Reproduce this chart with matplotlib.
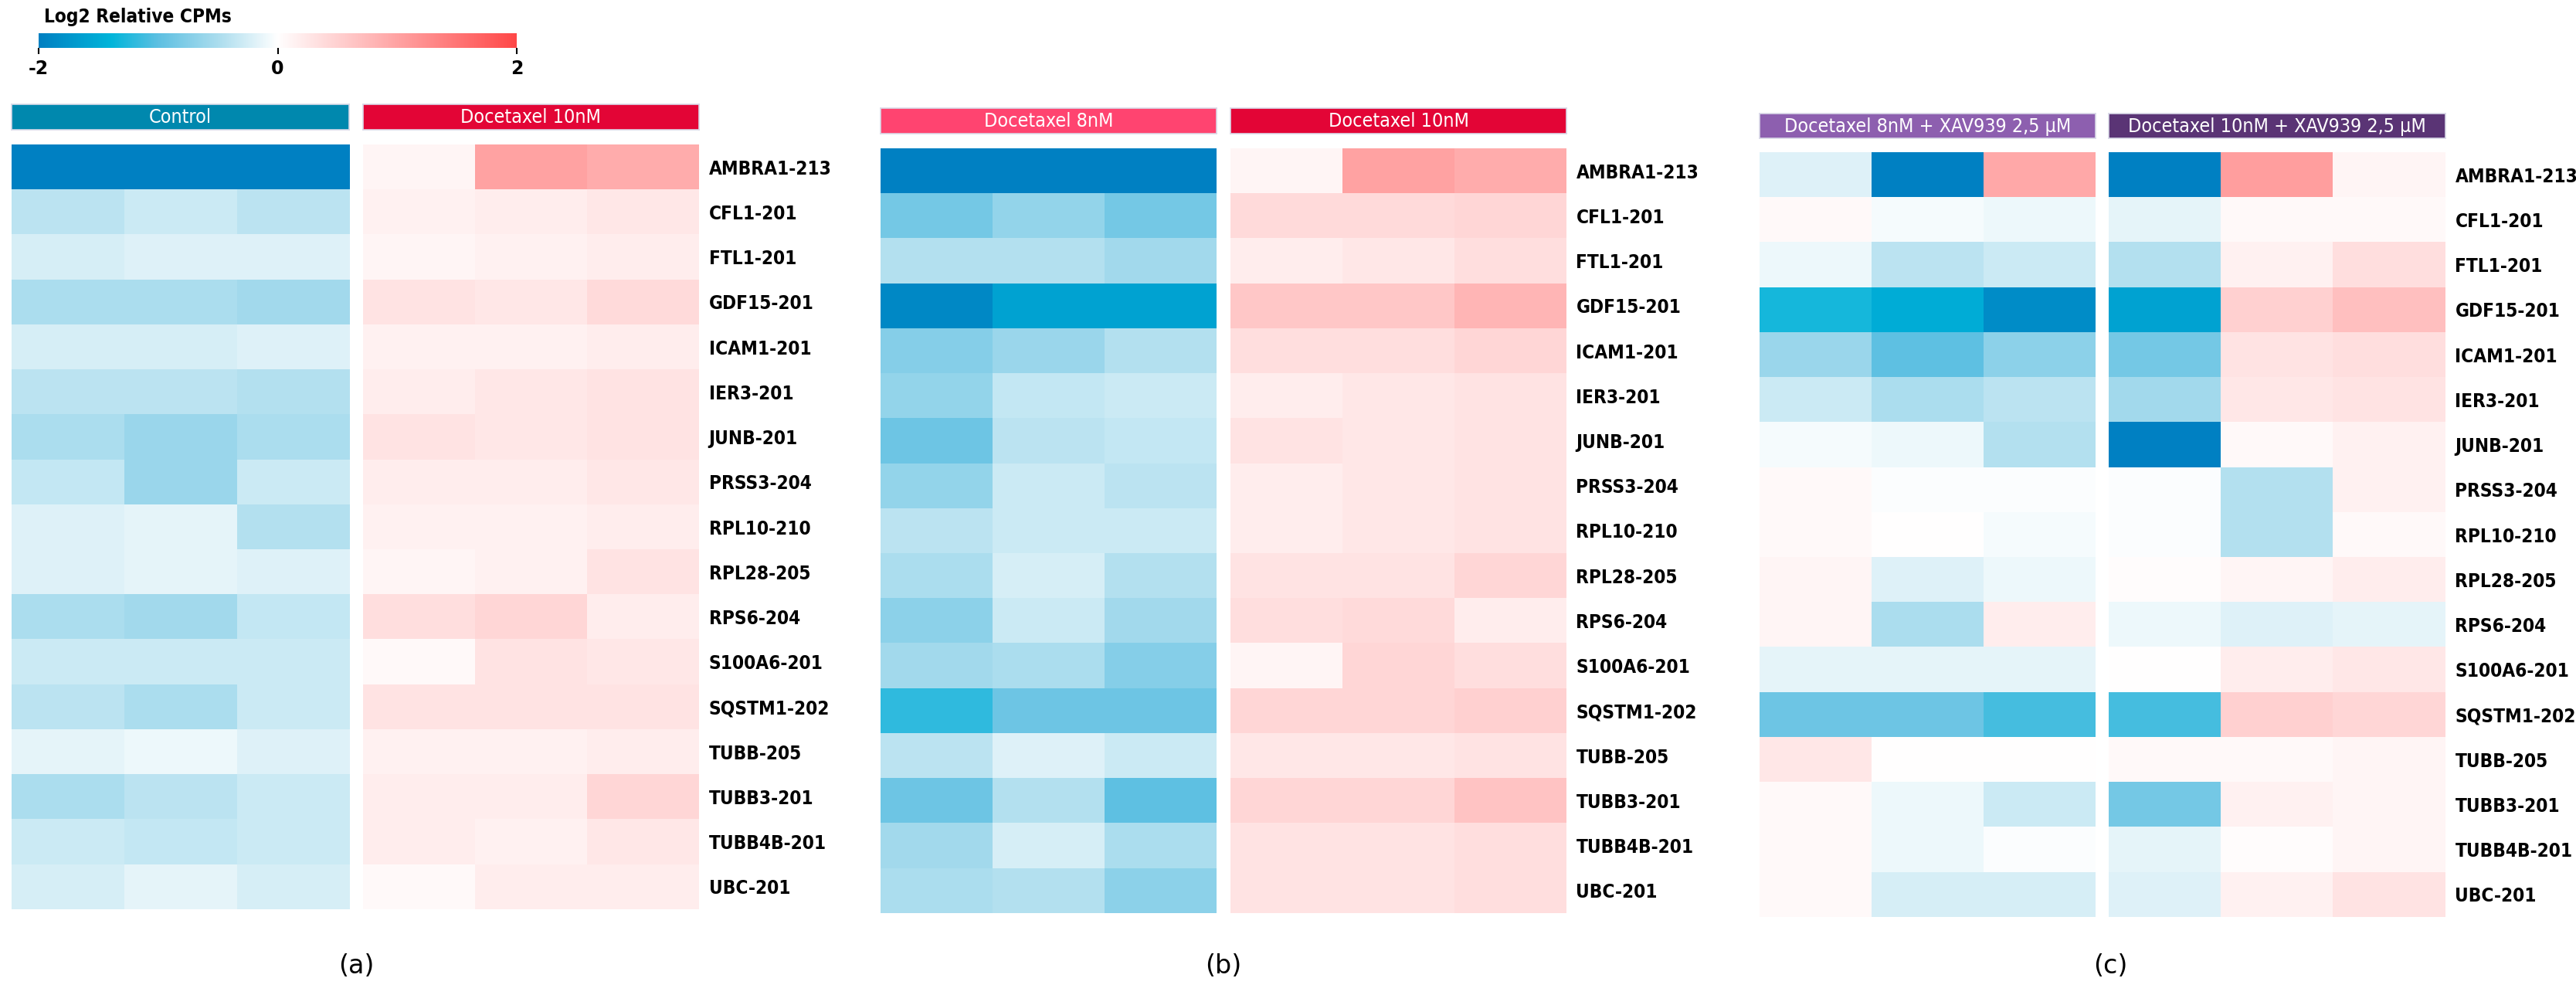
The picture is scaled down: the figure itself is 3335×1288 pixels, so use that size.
import matplotlib
matplotlib.use("Agg")
import matplotlib.pyplot as plt
import numpy as np
from matplotlib.colors import LinearSegmentedColormap

plt.rcParams['font.family'] = ['DejaVu Sans']

W, H = 3335, 1288

genes = ['AMBRA1-213', 'CFL1-201', 'FTL1-201', 'GDF15-201', 'ICAM1-201',
         'IER3-201', 'JUNB-201', 'PRSS3-204', 'RPL10-210', 'RPL28-205',
         'RPS6-204', 'S100A6-201', 'SQSTM1-202', 'TUBB-205', 'TUBB3-201',
         'TUBB4B-201', 'UBC-201']

# log2 relative CPMs, 3 replicates per condition
control_a = [[-2, -2, -2], [-0.4, -0.3, -0.4], [-0.25, -0.2, -0.2],
             [-0.5, -0.5, -0.55], [-0.25, -0.25, -0.2], [-0.4, -0.4, -0.45],
             [-0.5, -0.6, -0.5], [-0.35, -0.6, -0.3], [-0.2, -0.15, -0.45],
             [-0.2, -0.15, -0.2], [-0.5, -0.55, -0.35], [-0.3, -0.3, -0.3],
             [-0.4, -0.5, -0.3], [-0.15, -0.1, -0.2], [-0.5, -0.4, -0.3],
             [-0.3, -0.35, -0.3], [-0.25, -0.15, -0.25]]
doc10_a = [[0.1, 1.0, 0.9], [0.15, 0.2, 0.25], [0.1, 0.15, 0.2],
           [0.3, 0.25, 0.4], [0.15, 0.15, 0.2], [0.2, 0.25, 0.3],
           [0.3, 0.25, 0.3], [0.2, 0.2, 0.25], [0.15, 0.15, 0.2],
           [0.1, 0.15, 0.3], [0.35, 0.45, 0.2], [0.05, 0.3, 0.25],
           [0.3, 0.3, 0.3], [0.15, 0.15, 0.2], [0.2, 0.2, 0.45],
           [0.2, 0.15, 0.25], [0.05, 0.2, 0.2]]
doc8_b = [[-2, -2, -2], [-0.85, -0.65, -0.85], [-0.45, -0.45, -0.55],
          [-1.9, -1.6, -1.6], [-0.75, -0.6, -0.45], [-0.65, -0.35, -0.3],
          [-0.9, -0.4, -0.35], [-0.65, -0.3, -0.4], [-0.4, -0.3, -0.3],
          [-0.5, -0.25, -0.45], [-0.7, -0.3, -0.55], [-0.55, -0.5, -0.75],
          [-1.2, -0.9, -0.9], [-0.4, -0.2, -0.3], [-0.9, -0.45, -1.0],
          [-0.55, -0.25, -0.5], [-0.5, -0.45, -0.7]]
doc10_b = [[0.1, 1.0, 0.9], [0.4, 0.4, 0.45], [0.2, 0.25, 0.35],
           [0.6, 0.6, 0.8], [0.35, 0.35, 0.45], [0.2, 0.25, 0.3],
           [0.3, 0.25, 0.3], [0.2, 0.25, 0.3], [0.2, 0.25, 0.3],
           [0.3, 0.3, 0.45], [0.35, 0.4, 0.2], [0.1, 0.45, 0.35],
           [0.45, 0.45, 0.5], [0.25, 0.25, 0.3], [0.45, 0.45, 0.65],
           [0.3, 0.3, 0.35], [0.3, 0.3, 0.35]]
doc8_xav_c = [[-0.2, -2, 0.95], [0.05, -0.05, -0.1], [-0.1, -0.4, -0.3],
              [-1.3, -1.5, -1.85], [-0.6, -1.0, -0.7], [-0.3, -0.5, -0.4],
              [-0.05, -0.1, -0.45], [0.05, -0.03, -0.03], [0.05, 0, -0.05],
              [0.1, -0.2, -0.1], [0.1, -0.5, 0.2], [-0.15, -0.15, -0.15],
              [-0.9, -0.9, -1.1], [0.25, 0, 0], [0.05, -0.1, -0.3],
              [0.05, -0.1, -0.03], [0.05, -0.25, -0.25]]
doc10_xav_c = [[-2, 1.05, 0.1], [-0.15, 0.05, 0.05], [-0.45, 0.15, 0.35],
               [-1.6, 0.5, 0.7], [-0.85, 0.3, 0.35], [-0.55, 0.25, 0.3],
               [-2, 0.05, 0.15], [-0.03, -0.45, 0.15], [-0.03, -0.45, 0.05],
               [0.03, 0.1, 0.2], [-0.1, -0.2, -0.15], [0, 0.2, 0.25],
               [-1.1, 0.5, 0.45], [0.05, 0.05, 0.1], [-0.85, 0.15, 0.1],
               [-0.15, 0.02, 0.1], [-0.2, 0.15, 0.3]]

conditions = ['Control', 'Docetaxel 10nM', 'Docetaxel 8nM', 'Docetaxel 10nM',
              'Docetaxel 8nM + XAV939 2,5 µM', 'Docetaxel 10nM + XAV939 2,5 µM']
header_colors = ['#0088AE', '#E30536', '#FF4470', '#E30536', '#8D5FAF', '#5A3475']
panel_names = ['(a)', '(b)', '(c)']

cmap = LinearSegmentedColormap.from_list(
    'cpm', [(0, '#0080C2'), (0.15, '#00B5DA'), (0.25, '#5EC0E2'),
            (0.375, '#ABDDEE'), (0.5, '#FFFFFF'), (1.0, '#FF4848')])


def px_axes(fig, x0, y0, x1, y1):
    return fig.add_axes([x0 / W, 1 - y1 / H, (x1 - x0) / W, (y1 - y0) / H])


fig = plt.figure(figsize=(W / 100, H / 100), dpi=100)

# block layout in pixels: (left, right), heatmap top/bottom, header top/bottom
blocks = [(15, 452), (470, 905), (1140, 1575), (1593, 2028), (2278, 2713), (2730, 3166)]
panel_rows = [(187, 1177, 135, 168), (192, 1182, 140, 173), (197, 1187, 147, 179)]
letter_x = [461, 1584, 2732]
data = [control_a, doc10_a, doc8_b, doc10_b, doc8_xav_c, doc10_xav_c]

for i, (x0, x1) in enumerate(blocks):
    top, bottom, htop, hbottom = panel_rows[i // 2]

    ax = px_axes(fig, x0, top, x1, bottom)
    ax.imshow(np.array(data[i]), cmap=cmap, vmin=-2, vmax=2,
              aspect='auto', interpolation='nearest')
    ax.set_xticks([])
    for s in ax.spines.values():
        s.set_visible(False)
    if i % 2 == 1:
        ax.yaxis.tick_right()
        ax.set_yticks(range(len(genes)))
        ax.set_yticklabels(genes, fontsize=17.5, fontweight='bold',
                           fontstretch='condensed')
        ax.tick_params(axis='y', length=0, pad=9)
    else:
        ax.set_yticks([])

    hax = px_axes(fig, x0, htop, x1, hbottom)
    hax.set_facecolor(header_colors[i])
    hax.set_xticks([])
    hax.set_yticks([])
    for s in hax.spines.values():
        s.set_color('#D9D9E8')
        s.set_linewidth(1.2)
    hax.text(0.5, 0.48, conditions[i], color='white', fontsize=18,
             fontstretch='condensed', ha='center', va='center',
             transform=hax.transAxes)

# panel letters under the gap of each pair
for k, name in enumerate(panel_names):
    fig.text(letter_x[k] / W, 1 - 1250 / H, name, fontsize=24,
             ha='center', va='center')

# colour bar
cax = px_axes(fig, 50, 43, 669, 62)
grad = np.linspace(-2, 2, 512).reshape(1, -1)
cax.imshow(grad, cmap=cmap, vmin=-2, vmax=2, aspect='auto',
           extent=[-2, 2, 0, 1], interpolation='bilinear')
cax.set_yticks([])
cax.set_xticks([-2, 0, 2])
cax.set_xticklabels(['-2', '0', '2'], fontsize=17, fontweight='bold')
cax.tick_params(axis='x', length=6, width=1.5, pad=5)
for s in cax.spines.values():
    s.set_visible(False)
fig.text(57 / W, 1 - 22 / H, 'Log2 Relative CPMs', fontsize=17.5,
         fontweight='bold', fontstretch='condensed', ha='left', va='center')

fig.savefig('out.png', dpi=100, facecolor='white')
